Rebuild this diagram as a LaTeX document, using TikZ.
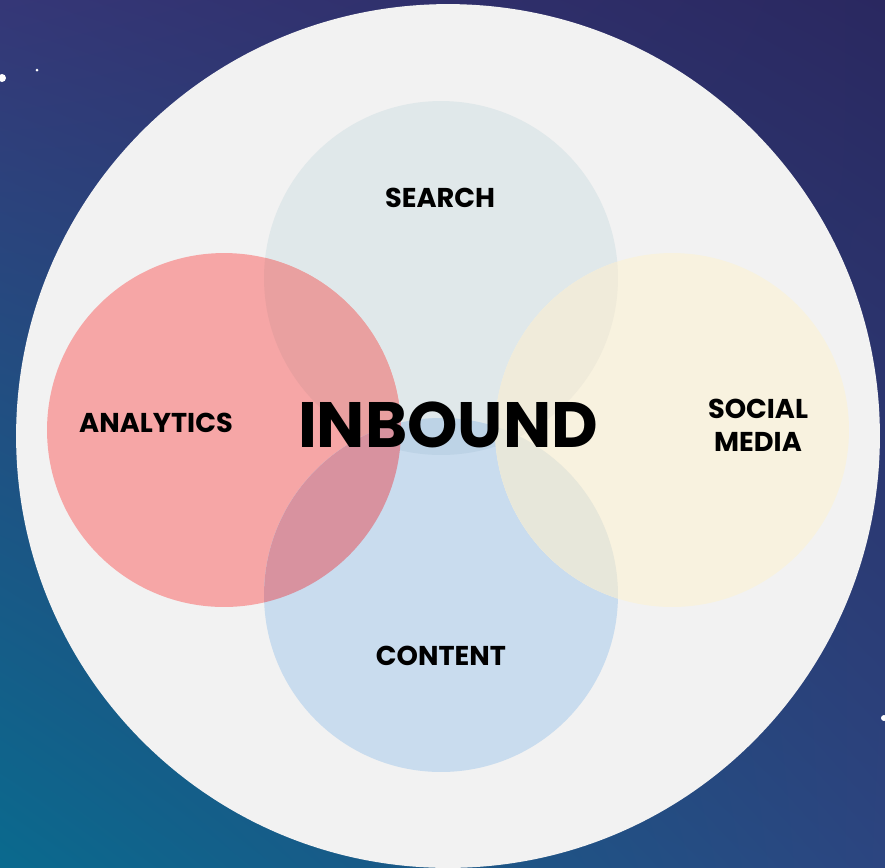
\documentclass[tikz,border=0pt]{standalone}
\usepackage{fontspec}
\setmainfont{Poppins}
\usetikzlibrary{shadings}
\definecolor{bgtl}{HTML}{353777}
\definecolor{bgtr}{HTML}{2A2860}
\definecolor{bgbl}{HTML}{0A6A8E}
\definecolor{bgbr}{HTML}{2C4580}
\definecolor{disc}{HTML}{F2F2F2}
\definecolor{searchc}{HTML}{E0E8EA}
\definecolor{analyticsc}{HTML}{F6A6A6}
\definecolor{socialc}{HTML}{F8F2DF}
\definecolor{contentc}{HTML}{C9DCEE}
\definecolor{sa}{HTML}{E9A0A0}
\definecolor{ac}{HTML}{D8929F}
\definecolor{sc}{HTML}{BDD3E6}
\definecolor{ss}{HTML}{F0EBDA}
\definecolor{cs}{HTML}{E7E7DA}
\tikzset{
	lbl/.style={font=\bfseries\fontsize{15.5}{19}\selectfont, align=center, inner sep=0pt},
	big/.style={font=\bfseries\fontsize{36.5}{40}\selectfont, inner sep=0pt}
}
\newcommand{\rr}{3.54cm}
\begin{document}
\begin{tikzpicture}[x=0.02cm,y=-0.02cm]
	\useasboundingbox (0,0) rectangle (885,867);
	\clip (0,0) rectangle (885,867);
	\shade[upper left=bgtl, upper right=bgtr, lower left=bgbl, lower right=bgbr] (0,0) rectangle (885,867);
	\fill[white] (2,78) circle[radius=0.08cm];
	\fill[white] (37,70) circle[radius=0.03cm];
	\fill[white] (884,718) circle[radius=0.06cm];

	\coordinate (cD) at (448,436);
	\coordinate (cS) at (441,278);
	\coordinate (cA) at (224,430);
	\coordinate (cM) at (672,430);
	\coordinate (cC) at (441,595);

	\fill[disc] (cD) circle[radius=8.64cm];
	\fill[searchc] (cS) circle[radius=\rr];
	\fill[analyticsc] (cA) circle[radius=\rr];
	\fill[contentc] (cC) circle[radius=\rr];
	\fill[socialc] (cM) circle[radius=\rr];

	\begin{scope}
		\clip (cS) circle[radius=\rr];
		\fill[sa] (cA) circle[radius=\rr];
		\fill[sc] (cC) circle[radius=\rr];
		\fill[ss] (cM) circle[radius=\rr];
	\end{scope}
	\begin{scope}
		\clip (cC) circle[radius=\rr];
		\fill[ac] (cA) circle[radius=\rr];
		\fill[cs] (cM) circle[radius=\rr];
	\end{scope}

	\node[lbl] (search) at (440,198) {SEARCH};
	\node[lbl] (analytics) at (156,423) {ANALYTICS};
	\node[lbl] (social) at (758,425) {SOCIAL\\MEDIA};
	\node[lbl] (content) at (441,656) {CONTENT};
	\node[big] (inbound) at (448,425) {INBOUND};
\end{tikzpicture}
\end{document}
